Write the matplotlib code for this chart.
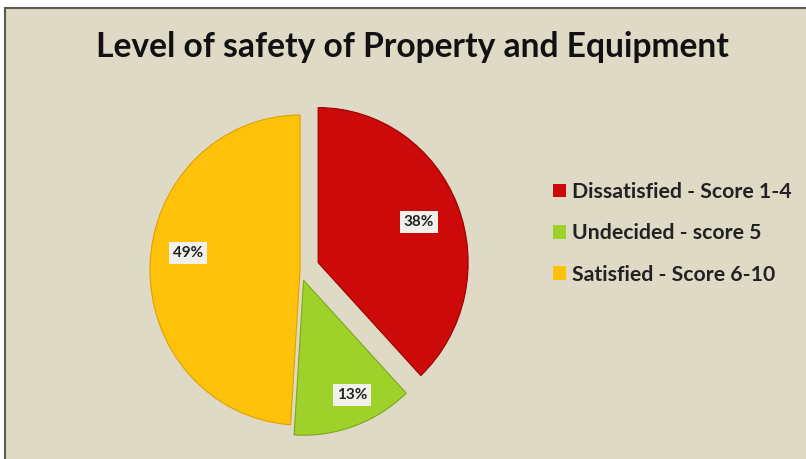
import matplotlib.pyplot as plt
from matplotlib.patches import Rectangle, Patch

labels = ['Dissatisfied - Score 1-4', 'Undecided - score 5', 'Satisfied - Score 6-10']
shares = [38, 13, 49]
colours = ['#CC0A0A', '#9ED12A', '#FFC20A']
explode = [0.13, 0.07, 0.0]

W, H = 806, 459
fig = plt.figure(figsize=(W / 100, H / 100), dpi=100)
fig.patch.set_facecolor('white')

# beige panel with a dark edge top/left
fig.patches.append(Rectangle((5 / W, -0.05), 1.0, (H - 8) / H + 0.05, transform=fig.transFigure,
                             facecolor='#DEDAC6', edgecolor='#5A5A50', linewidth=1.5, zorder=-5))

fig.text(412 / W, 1 - 47 / H, 'Level of safety of Property and Equipment', ha='center', va='center',
         fontsize=24.2, fontweight='bold', family='Lato', color='#111111')

# pie centred at pixel (300, 270), slightly taller than wide
cx, cy, rx, ry, half = 300, 270, 150, 155, 200
ax = fig.add_axes([(cx - half) / W, (H - cy - half) / H, 2 * half / W, 2 * half / H])

wedges, texts = ax.pie(shares, colors=colours, explode=explode, startangle=90, counterclock=False,
                       wedgeprops=dict(linewidth=0.8))
for w, c in zip(wedges, ['#9A0000', '#7FA81A', '#E0A000']):
    w.set_edgecolor(c)
ax.set_aspect('auto')
ax.set_xlim(-half / rx, half / rx)
ax.set_ylim(-half / ry, half / ry)
ax.axis('off')

# label positions (data coords, radius 1)
label_pos = [((419 - cx) / rx, (cy - 222) / ry), ((352 - cx) / rx, (cy - 395) / ry), ((188 - cx) / rx, (cy - 253) / ry)]
for (x, y), s in zip(label_pos, shares):
    ax.text(x, y, f'{s}%', ha='center', va='center', fontsize=11, fontweight='bold', family='Lato',
            color='#222222', bbox=dict(boxstyle='square,pad=0.25', facecolor='#F2F0EA', edgecolor='none'))

handles = [Patch(facecolor=c, edgecolor='none') for c in colours]
leg = fig.legend(handles, labels, loc='upper left', bbox_to_anchor=(534 / W, 1 - 163 / H), frameon=False,
                 prop=dict(family='Lato', weight='bold', size=15.3), handlelength=0.6, handleheight=0.6,
                 handletextpad=0.3, labelspacing=1.0)
for t in leg.get_texts():
    t.set_color('#222222')

fig.savefig('out.png', dpi=100, facecolor=fig.get_facecolor())
